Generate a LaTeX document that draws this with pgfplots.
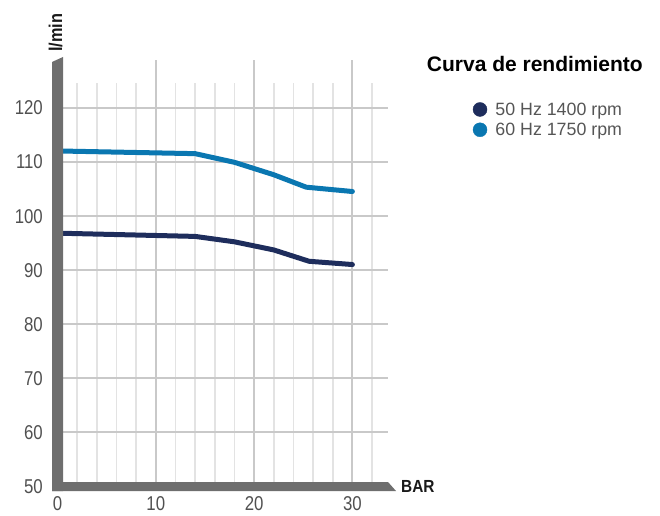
\documentclass[border=0pt]{standalone}
\usepackage{pgfplots}
\usepackage{pgfplotstable}
\pgfplotsset{compat=1.18}
\usepackage{fontspec}
\setmainfont{Liberation Sans}
\newfontfamily\condfont[FakeStretch=0.84]{Liberation Sans}
\newfontfamily\condbold[FakeStretch=0.88]{Liberation Sans Bold}
\definecolor{c50}{HTML}{1E2D5C}
\definecolor{c60}{HTML}{0A77B1}
\definecolor{barc}{HTML}{6E6E6E}
\definecolor{gmaj}{HTML}{C9C9C9}
\definecolor{gmin}{HTML}{E3E3E3}
\definecolor{tickc}{HTML}{505050}
\definecolor{legc}{HTML}{555555}

\pgfplotstableread{
x y
0 96.8
14 96.2
18 95.2
22 93.7
25.6 91.6
30 91.0
}\lowtab
\pgfplotstableread{
x y
0 112.0
14 111.5
18 109.9
22 107.6
25.3 105.3
30 104.5
}\hightab

\begin{document}
\begin{tikzpicture}
\useasboundingbox (0,0) rectangle (660pt,515pt);
\begin{axis}[
  at={(57.5pt,28.7pt)}, anchor=south west,
  x=9.83pt, y=5.409pt,
  xmin=0, xmax=34.6, ymin=50, ymax=129.5,
  enlargelimits=false, clip=false,
  axis lines=left, axis line style={draw=none},
  major tick length=0pt, minor tick num=0,
  xtick={0,10,20,30}, ytick={50,60,...,120},
  /pgf/number format/assume math mode=true,
  tick label style={font=\condfont\fontsize{20}{24}\selectfont, text=tickc},
  xticklabel style={anchor=base, inner sep=0pt, yshift=-24.5pt},
  yticklabel style={anchor=base east, inner sep=0pt, xshift=-14.5pt, yshift=-7.2pt},
  legend style={draw=none, fill=none, inner sep=0pt, outer sep=0pt,
    at={(axis cs:42.25,121.0)}, anchor=north west,
    row sep=5.8pt, column sep=8.2pt,
    font=\fontsize{17.8}{21}\selectfont, text=legc,
    nodes={inner sep=0pt}, cells={anchor=base west}},
]
% grid
\pgfplotsinvokeforeach{2,4,6,8,12,14,16,18,22,24,26,28,32}{
  \draw[gmin, line width=1.6pt] (axis cs:#1,50) -- (axis cs:#1,124.6);
}
\pgfplotsinvokeforeach{60,70,80,90,100,110,120}{
  \draw[gmaj, line width=1.9pt] (axis cs:0,#1) -- (axis cs:33.6,#1);
}
\pgfplotsinvokeforeach{10,20,30}{
  \draw[gmaj, line width=2pt] (axis cs:#1,50) -- (axis cs:#1,128.8);
}
\addlegendimage{legend image code/.code={\fill[c50] (0pt,5.8pt) circle (7pt);}}
\addlegendentry{50 Hz 1400 rpm}
\addlegendimage{legend image code/.code={\fill[c60] (0pt,5.8pt) circle (7pt);}}
\addlegendentry{60 Hz 1750 rpm}
\addplot[c50, line width=5pt, line cap=round, line join=round, forget plot] table[x=x,y=y] {\lowtab};
\addplot[c60, line width=5pt, line cap=round, line join=round, forget plot] table[x=x,y=y] {\hightab};
\end{axis}
% axis bars
\fill[barc] (52pt,24pt) -- (63pt,24pt) -- (63pt,458pt) -- (52pt,453pt) -- cycle;
\fill[barc] (52pt,24pt) -- (396pt,24pt) -- (388pt,33pt) -- (52pt,33pt) -- cycle;
% labels
\node[rotate=90, anchor=base west, inner sep=0pt, text=black!90]
  at (62pt,463pt) {\condbold\fontsize{18.5}{22}\selectfont l/min};
\node[anchor=base west, inner sep=0pt, text=black!90]
  at (401pt,23pt) {\condbold\fontsize{17.5}{21}\selectfont BAR};
\node[anchor=base east, inner sep=0pt, text=black]
  at (643pt,443.3pt) {\bfseries\fontsize{21}{25}\selectfont Curva de rendimiento};
\end{tikzpicture}
\end{document}
